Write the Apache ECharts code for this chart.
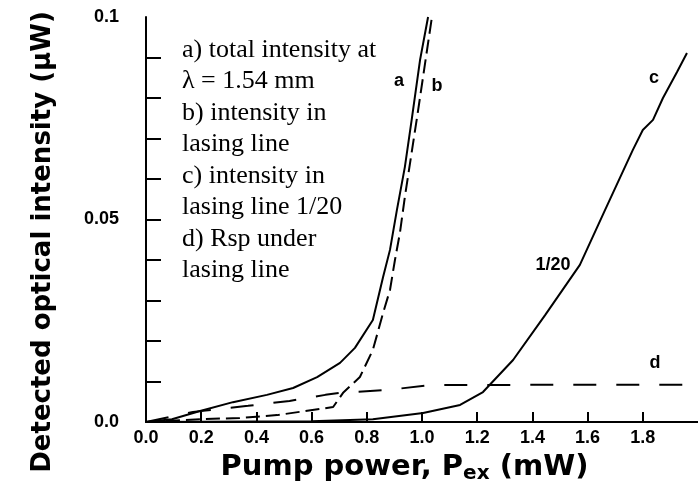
<!DOCTYPE html>
<html><head><meta charset="utf-8">
<script src="https://cdn.jsdelivr.net/npm/echarts@6/dist/echarts.min.js"></script>
<style>html,body{margin:0;padding:0;background:#fff}#c{width:698px;height:489px}</style>
</head><body><div id="c"></div>
<script>
// x tick labels / y ticks
const xTickValues = [0, 0.2, 0.4, 0.6, 0.8, 1.0, 1.2, 1.4, 1.6, 1.8];
const yTickValues = [0.01, 0.02, 0.03, 0.04, 0.05, 0.06, 0.07, 0.08, 0.09];
const yLabelValues = [0, 0.05, 0.1];

// a) total intensity (solid)
const curveA = [[0,0],[0.094,0.0007],[0.196,0.0027],[0.315,0.0049],[0.438,0.0067],[0.533,0.0084],[0.62,0.0111],[0.703,0.0146],[0.757,0.0183],[0.822,0.0252],[0.859,0.0358],[0.884,0.0425],[0.909,0.0523],[0.938,0.063],[0.964,0.0753],[0.993,0.0894],[1.022,0.1]];
// b) intensity in lasing line (dashed)
const curveB = [[0,0],[0.196,0.0007],[0.34,0.001],[0.475,0.0017],[0.678,0.0037],[0.714,0.0072],[0.775,0.0111],[0.822,0.0178],[0.859,0.0269],[0.884,0.0326],[0.902,0.04],[0.92,0.0467],[0.938,0.0556],[0.964,0.0672],[0.986,0.077],[1.036,0.1]];
// c) intensity in lasing line 1/20 (solid)
const curveC = [[0,0],[0.6,0.0002],[0.822,0.0007],[1.004,0.0022],[1.138,0.0042],[1.221,0.0074],[1.33,0.0153],[1.446,0.0264],[1.572,0.0388],[1.663,0.0523],[1.764,0.0672],[1.80,0.0721],[1.837,0.0746],[1.873,0.08],[1.924,0.0864],[1.96,0.0911]];
// d) Rsp under lasing line (dashed)
const curveD = [[0,0],[0.17,0.0025],[0.37,0.004],[0.52,0.0052],[0.65,0.0067],[0.703,0.0072],[0.873,0.0079],[1.03,0.0091],[1.5,0.0092],[1.97,0.0092]];

// curve annotations
const annotations = [
  {text:'a', x:0.917, y:0.0842},
  {text:'b', x:1.054, y:0.083},
  {text:'c', x:1.841, y:0.0849},
  {text:'d', x:1.844, y:0.0146},
  {text:'1/20', x:1.475, y:0.0388}
];
const legendLines = ['a) total intensity at','λ = 1.54 mm','b) intensity in','lasing line','c) intensity in','lasing line 1/20','d) Rsp under','lasing line'];

const chart = echarts.init(document.getElementById('c'));
const sans = '"Liberation Sans", Arial, sans-serif';
const wide = '"DejaVu Sans", "Liberation Sans", sans-serif';
const lineCol = '#000';
chart.setOption({
  animation:false,
  grid:{left:146, right:0, top:17, bottom:67},
  xAxis:[{
    type:'value', min:0, max:2.0, interval:0.2,
    axisLine:{show:true, onZero:false, lineStyle:{color:lineCol,width:2}},
    axisTick:{show:true, inside:true, length:10, customValues:xTickValues.slice(1), lineStyle:{color:lineCol,width:2}},
    axisLabel:{customValues:xTickValues, formatter:v=>v.toFixed(1), color:'#000', fontFamily:sans, fontWeight:'bold', fontSize:18, margin:7},
    splitLine:{show:false},
    name:'{t|Pump power, P}{s|ex}{t| (mW)}', nameLocation:'middle', nameGap:28,
    nameTextStyle:{padding:[0,35,0,0], rich:{t:{fontFamily:wide,fontWeight:'bold',fontSize:29,color:'#000'}, s:{fontFamily:wide,fontWeight:'bold',fontSize:20,color:'#000',verticalAlign:'bottom',padding:[14,0,0,0]}}}
  },{
    type:'value', position:'top', min:0, max:2.0,
    axisLine:{show:true, lineStyle:{color:lineCol,width:2}},
    axisTick:{show:false}, axisLabel:{show:false}, splitLine:{show:false}
  }],
  yAxis:{
    type:'value', min:0, max:0.1, interval:0.01,
    axisLine:{show:true, lineStyle:{color:lineCol,width:2}},
    axisTick:{show:true, inside:true, length:15, customValues:yTickValues, lineStyle:{color:lineCol,width:2}},
    axisLabel:{customValues:yLabelValues, formatter:v=> v===0?'0.0':(v===0.1?'0.1':'0.05'), color:'#000', fontFamily:sans, fontWeight:'bold', fontSize:18, margin:27},
    splitLine:{show:false},
    name:'Detected optical intensity (μW)', nameLocation:'middle', nameGap:90,
    nameTextStyle:{fontFamily:wide, fontWeight:'bold', fontSize:26, color:'#000', padding:[0,45,0,0]}
  },
  series:[
    {type:'line', data:curveA, showSymbol:false, symbol:'none', lineStyle:{color:lineCol,width:2}},
    {type:'line', data:curveB, showSymbol:false, symbol:'none', lineStyle:{color:lineCol,width:2,type:[14,6]}},
    {type:'line', data:curveC, showSymbol:false, symbol:'none', lineStyle:{color:lineCol,width:2}},
    {type:'line', data:curveD, showSymbol:false, symbol:'none', lineStyle:{color:lineCol,width:2,type:[23,20]}},
    {type:'scatter', symbolSize:0, itemStyle:{color:'#000', opacity:1}, data:annotations.map(a=>({value:[a.x,a.y], name:a.text})),
     label:{show:true, position:'inside', formatter:p=>p.name, fontFamily:sans, fontWeight:'bold', fontSize:18, color:'#000', opacity:1, textBorderWidth:0, textShadowBlur:0}, silent:true}
  ],
  graphic:[{
    type:'text', left:182, top:34,
    style:{text:legendLines.join('\n'), font:'26px "Liberation Serif", "Times New Roman", serif', lineHeight:31.5, fill:'#000'}
  }]
});
</script></body></html>
